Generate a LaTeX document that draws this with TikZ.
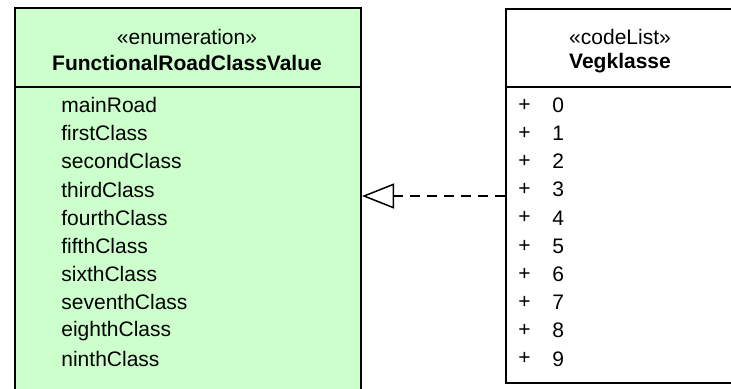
\documentclass[tikz,border=0pt]{standalone}
\usepackage{fontspec}
\setmainfont{Liberation Sans}
\usetikzlibrary{arrows.meta}
\definecolor{enumgreen}{RGB}{204,255,204}

\begin{document}
\begin{tikzpicture}[x=0.5pt,y=-0.5pt,
        classbox/.style={draw, line width=1pt, inner sep=0pt, anchor=north west},
        headtext/.style={inner sep=0pt, font=\fontsize{10.5}{12}\selectfont},
        item/.style={anchor=west, inner sep=0pt, font=\fontsize{10.5}{12}\selectfont}]
    \useasboundingbox (0,0) rectangle (731,388);
    \begin{scope}
        \clip (0,0) rectangle (731,388);
        % class boxes, both run past the page edge
        \node[classbox, fill=enumgreen, minimum width=173pt, minimum height=197pt] (enumBox) at (14,7) {};
        \node[classbox, fill=white, minimum width=115pt, minimum height=187pt] (codeBox) at (505,8) {};
        \draw[line width=1pt] (enumBox.west |- 0,87) -- (enumBox.east |- 0,87);
        \draw[line width=1pt] (codeBox.west |- 0,87) -- (codeBox.east |- 0,87);
        % headers
        \node[headtext] (enumStereo) at (187,37) {«enumeration»};
        \node[headtext, font=\fontsize{10.5}{12}\selectfont\bfseries] (enumName) at (187,63) {FunctionalRoadClassValue};
        \node[headtext] (codeStereo) at (620,37) {«codeList»};
        \node[headtext, font=\fontsize{10.5}{12}\selectfont\bfseries] (codeName) at (620,63) {Vegklasse};
        % literals
        \foreach \lit [count=\i from 0] in {mainRoad,firstClass,secondClass,thirdClass,fourthClass,fifthClass,sixthClass,seventhClass,eighthClass,ninthClass}
            \node[item] (enum\i) at (61,{105+28.2*\i}) {\lit};
        \foreach \i in {0,...,9} {
            \node[item] (plus\i) at (518,{105+28.2*\i}) {+};
            \node[item] (code\i) at (552,{105+28.2*\i}) {\i};
        }
        % realisation
        \draw[line width=0.75pt, dash pattern=on 5pt off 3.5pt,
            -{Triangle[open, length=16pt, width=12.5pt, line width=0.75pt]}]
            (codeBox.west) -- (enumBox.east |- codeBox.west);
    \end{scope}
\end{tikzpicture}
\end{document}
